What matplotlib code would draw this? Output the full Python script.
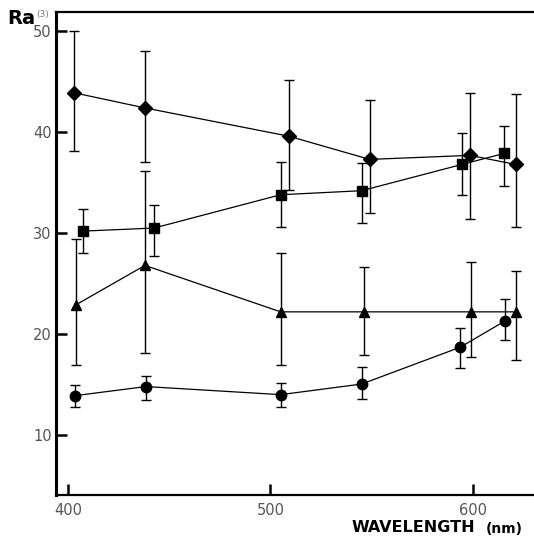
import numpy as np
import matplotlib
matplotlib.use("Agg")
import matplotlib.pyplot as plt

# --- data (wavelength nm, Ra value, error bar low/high) ---
diamond_x = [403, 438, 509, 549, 598.5, 621]
diamond_y = [43.9, 42.4, 39.6, 37.3, 37.7, 36.8]
diamond_lo = [38.1, 37.0, 34.3, 32.0, 31.4, 30.6]
diamond_hi = [50.0, 48.0, 45.2, 43.2, 43.9, 43.8]

square_x = [407.5, 442.5, 505, 545, 594.5, 615.5]
square_y = [30.2, 30.5, 33.8, 34.2, 36.8, 37.9]
square_lo = [28.0, 27.7, 30.6, 31.0, 33.8, 34.7]
square_hi = [32.4, 32.8, 37.0, 36.9, 39.9, 40.6]

tri_x = [404, 438, 505, 546, 599, 621]
tri_y = [22.9, 26.8, 22.2, 22.2, 22.2, 22.2]
tri_lo = [16.9, 18.1, 16.9, 17.9, 17.7, 17.4]
tri_hi = [29.4, 36.2, 28.0, 26.6, 27.1, 26.2]

circ_x = [403.5, 438.5, 505, 545, 593.7, 615.8]
circ_y = [13.9, 14.8, 14.0, 15.05, 18.7, 21.3]
circ_lo = [12.8, 13.5, 12.8, 13.6, 16.6, 19.4]
circ_hi = [14.95, 15.8, 15.2, 16.7, 20.6, 23.5]

x_ticks = [400, 500, 600]
y_ticks = [10, 20, 30, 40, 50]

series = [
    (diamond_x, diamond_y, diamond_lo, diamond_hi, "D", 7.5),
    (square_x, square_y, square_lo, square_hi, "s", 6.5),
    (tri_x, tri_y, tri_lo, tri_hi, "^", 7),
    (circ_x, circ_y, circ_lo, circ_hi, "o", 7.5),
]

fig = plt.figure(figsize=(5.34, 5.44), dpi=100)
ax = fig.add_axes([56 / 534, 49 / 544, 1 - 56 / 534, (495 - 12) / 544])

for xs, ys, lo, hi, mk, ms in series:
    ys = np.array(ys)
    yerr = [ys - np.array(lo), np.array(hi) - ys]
    ax.errorbar(xs, ys, yerr=yerr, fmt="none", ecolor="black",
                elinewidth=1.0, capsize=3.5, capthick=1.0, zorder=2)
    ax.plot(xs, ys, color="black", lw=0.9, marker=mk, ms=ms,
            mfc="black", mec="black", zorder=3)

ax.set_xlim(394.1, 630.1)
ax.set_ylim(4.06, 51.9)

ax.spines["right"].set_visible(False)
ax.spines["left"].set_linewidth(2.2)
ax.spines["bottom"].set_linewidth(1.6)
ax.spines["top"].set_linewidth(1.6)

ax.set_xticks(x_ticks)
ax.set_yticks(y_ticks)
ax.tick_params(axis="both", direction="in", length=8, width=1.8,
               labelsize=10.5, labelcolor="#555555", color="black")
ax.tick_params(axis="y", pad=3)
ax.tick_params(axis="x", pad=6)

fig.text(7 / 534, 1 - 18 / 544, "Ra", fontsize=14, fontweight="bold",
         va="center", ha="left")
fig.text(36 / 534, 1 - 15 / 544, "(3)", fontsize=6.5, color="#777777",
         va="center", ha="left")
fig.text(352 / 534, 1 - 528 / 544, "WAVELENGTH", fontsize=11.5,
         fontweight="bold", va="center", ha="left")
fig.text(486 / 534, 1 - 529 / 544, "(nm)", fontsize=10,
         fontweight="bold", va="center", ha="left")

fig.savefig("out.png", dpi=100)
